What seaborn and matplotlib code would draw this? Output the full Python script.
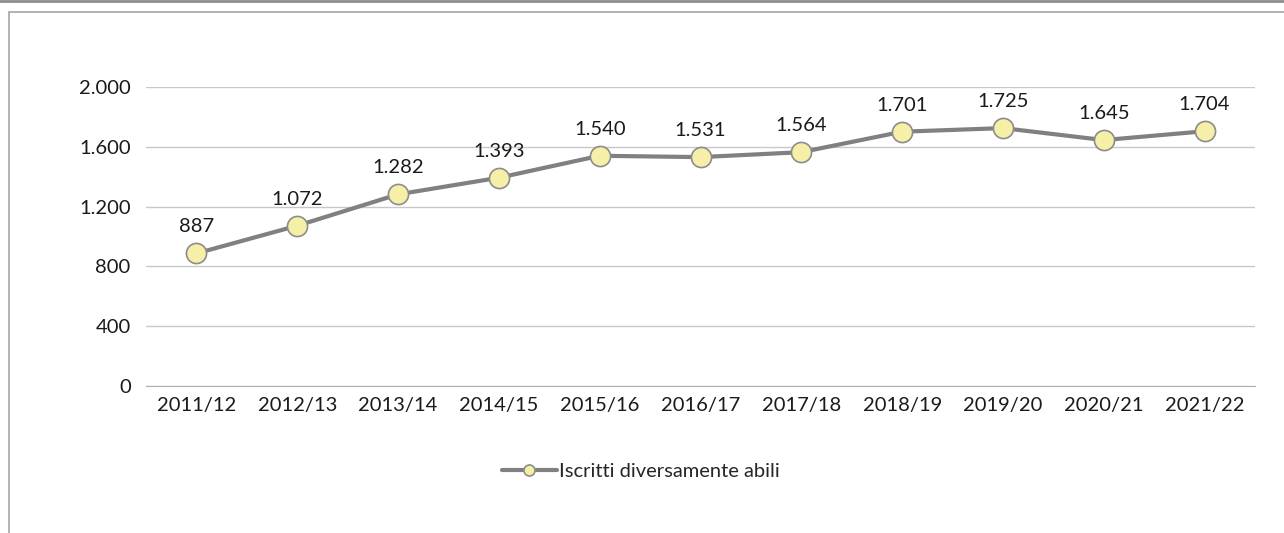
import matplotlib
matplotlib.use("Agg")
import matplotlib.pyplot as plt
from matplotlib.lines import Line2D
from matplotlib.ticker import FuncFormatter, MultipleLocator
import seaborn as sns
import pandas as pd

anni = ["2011/12", "2012/13", "2013/14", "2014/15", "2015/16", "2016/17",
        "2017/18", "2018/19", "2019/20", "2020/21", "2021/22"]
iscritti = [887, 1072, 1282, 1393, 1540, 1531, 1564, 1701, 1725, 1645, 1704]
serie = "Iscritti diversamente abili"

df = pd.DataFrame({"anno": anni, "iscritti": iscritti})

sns.set_style("white")
plt.rcParams["font.family"] = ["Lato", "DejaVu Sans"]
fs = 14.5

fig = plt.figure(figsize=(12.84, 5.33), dpi=100)
ax = fig.add_axes([146 / 1284, 1 - 386 / 533, (1255 - 146) / 1284, (386 - 87) / 533])

sns.lineplot(data=df, x="anno", y="iscritti", ax=ax, sort=False,
             color="#808080", linewidth=3, marker="o", markersize=14.5,
             markerfacecolor="#F6EFA8", markeredgecolor="#8C8C8C",
             markeredgewidth=1.2, label=serie, zorder=3)

for i, v in enumerate(iscritti):
    ax.annotate(f"{v:,}".replace(",", "."), (i, v), xytext=(0, 13),
                textcoords="offset points", ha="center", va="bottom",
                fontsize=fs, color="#1a1a1a", annotation_clip=False)

ax.set_xlim(-0.5, len(anni) - 0.5)
ax.set_ylim(0, 2000)
ax.yaxis.set_major_locator(MultipleLocator(400))
ax.yaxis.set_major_formatter(FuncFormatter(lambda v, p: f"{int(v):,}".replace(",", ".")))
ax.grid(axis="y", color="#C8C8C8", linewidth=1)
ax.set_axisbelow(True)
for s in ["top", "right", "left"]:
    ax.spines[s].set_visible(False)
ax.spines["bottom"].set_color("#B0B0B0")
ax.tick_params(axis="both", length=0, labelsize=fs, labelcolor="#1a1a1a")
ax.tick_params(axis="y", pad=11)
ax.tick_params(axis="x", pad=8)
ax.set_xlabel("")
ax.set_ylabel("")

ax.get_legend().remove()
h, l = ax.get_legend_handles_labels()
fig.legend(h, l, loc="center", bbox_to_anchor=(0.499, 1 - 471 / 533),
           frameon=False, fontsize=fs, handlelength=2.7, handletextpad=0.1,
           markerscale=0.55)

# cornice del grafico
fig.add_artist(Line2D([9 / 1284, 1], [1 - 12 / 533] * 2, color="#A6A6A6", linewidth=1.2))
fig.add_artist(Line2D([9 / 1284] * 2, [0, 1 - 12 / 533], color="#A6A6A6", linewidth=1.2))
fig.add_artist(Line2D([0, 1], [1 - 1 / 533] * 2, color="#8C8C8C", linewidth=2))

fig.savefig("out.png", dpi=100)
